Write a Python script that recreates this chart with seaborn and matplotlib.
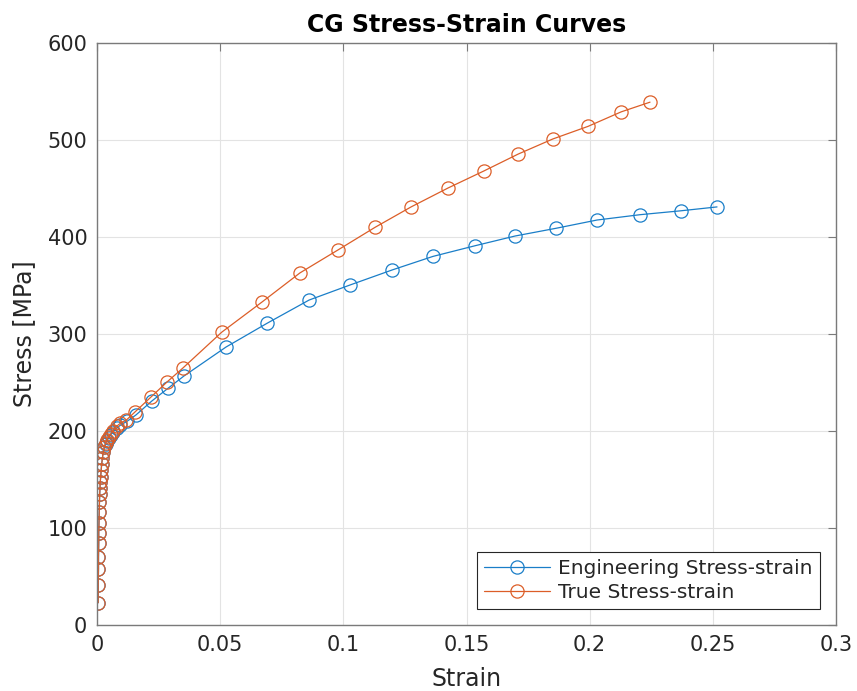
import matplotlib
matplotlib.use("Agg")
import matplotlib.pyplot as plt
import seaborn as sns
import pandas as pd

# Engineering stress-strain
eng_strain = [0.0005, 0.0005, 0.0006, 0.0006, 0.0007, 0.0007, 0.0008, 0.0009, 0.0010, 0.0011,
              0.0012, 0.0013, 0.0015, 0.0017, 0.0019, 0.0022, 0.0025, 0.0030, 0.0035, 0.0040,
              0.0047, 0.0055, 0.0065, 0.0080, 0.0095, 0.0122, 0.0158, 0.0223, 0.0288, 0.0353,
              0.0524, 0.0690, 0.0861, 0.1027, 0.1198, 0.1364, 0.1535, 0.1697, 0.1864, 0.2030,
              0.2205, 0.2370, 0.2517]
eng_stress = [23, 41, 58, 70, 85, 95, 105, 117, 127, 135,
              141, 147, 153, 160, 166, 172, 178, 183, 187, 190,
              193, 196, 199, 203, 206, 210, 216.5, 231, 244, 256.7,
              286.6, 311, 335, 350.5, 366, 380, 391, 401, 409, 417.5,
              423, 427, 431]

# True stress-strain
true_strain = [0.0005, 0.0005, 0.0006, 0.0006, 0.0007, 0.0007, 0.0008, 0.0009, 0.0010, 0.0011,
               0.0012, 0.0013, 0.0015, 0.0017, 0.0019, 0.0022, 0.0025, 0.0030, 0.0035, 0.0040,
               0.0047, 0.0055, 0.0065, 0.0080, 0.0095, 0.0118, 0.0154, 0.0219, 0.0284, 0.0349,
               0.0507, 0.0670, 0.0824, 0.0978, 0.1129, 0.1275, 0.1425, 0.1570, 0.1710, 0.1850,
               0.1993, 0.2128, 0.2245]
true_stress = [23, 41, 58, 70, 85, 95, 105, 117, 127, 135,
               141, 147, 153, 160, 166, 172, 178, 184, 188, 191,
               194, 197, 200, 205, 208, 211, 219.6, 235, 250.5, 265,
               302, 333, 363, 386.6, 410, 431, 450.5, 468, 485.5, 501,
               514, 529, 539]

x_ticks = [0, 0.05, 0.1, 0.15, 0.2, 0.25, 0.3]
x_tick_labels = ["0", "0.05", "0.1", "0.15", "0.2", "0.25", "0.3"]
y_ticks = [0, 100, 200, 300, 400, 500, 600]

sns.set_style("white")
plt.rcParams['font.family'] = ['DejaVu Sans']

fig = plt.figure(figsize=(8.57, 6.91), dpi=100)
ax = fig.add_axes([0.1132, 0.0955, 0.8623, 0.8423])

blue = "#1a7ec8"
orange = "#dc5e28"

df_eng = pd.DataFrame({"Strain": eng_strain, "Stress": eng_stress})
df_true = pd.DataFrame({"Strain": true_strain, "Stress": true_stress})

sns.lineplot(data=df_eng, x="Strain", y="Stress", ax=ax, sort=False, estimator=None,
             color=blue, lw=0.9, marker="o", markersize=9.5, markerfacecolor="none",
             markeredgecolor=blue, markeredgewidth=0.9, label="Engineering Stress-strain")
sns.lineplot(data=df_true, x="Strain", y="Stress", ax=ax, sort=False, estimator=None,
             color=orange, lw=0.9, marker="o", markersize=9.5, markerfacecolor="none",
             markeredgecolor=orange, markeredgewidth=0.9, label="True Stress-strain")

ax.set_xlim(0, 0.3)
ax.set_ylim(0, 600)
ax.set_xticks(x_ticks)
ax.set_xticklabels(x_tick_labels)
ax.set_yticks(y_ticks)
ax.grid(True, color="#e3e3e3", lw=0.8)
ax.set_axisbelow(True)
for s in ax.spines.values():
    s.set_color("#7a7a7a")
    s.set_linewidth(1.0)
ax.tick_params(direction="in", length=6, width=0.8, colors="#7a7a7a", labelsize=15,
               top=True, right=True, labelcolor="#262626", pad=7)
ax.set_xlabel("Strain", fontsize=17, color="#262626", labelpad=9)
ax.set_ylabel("Stress [MPa]", fontsize=17, color="#262626", labelpad=8)
ax.set_title("CG Stress-Strain Curves", fontsize=17, fontweight="bold", color="black", pad=8)

leg = ax.legend(loc="lower right", fontsize=14.5, frameon=True, fancybox=False,
                edgecolor="#262626", framealpha=1, borderpad=0.35, handlelength=3.3,
                handletextpad=0.4, labelspacing=0.25, borderaxespad=0.8)
leg.get_frame().set_linewidth(0.8)

fig.savefig("out.png", dpi=100)
